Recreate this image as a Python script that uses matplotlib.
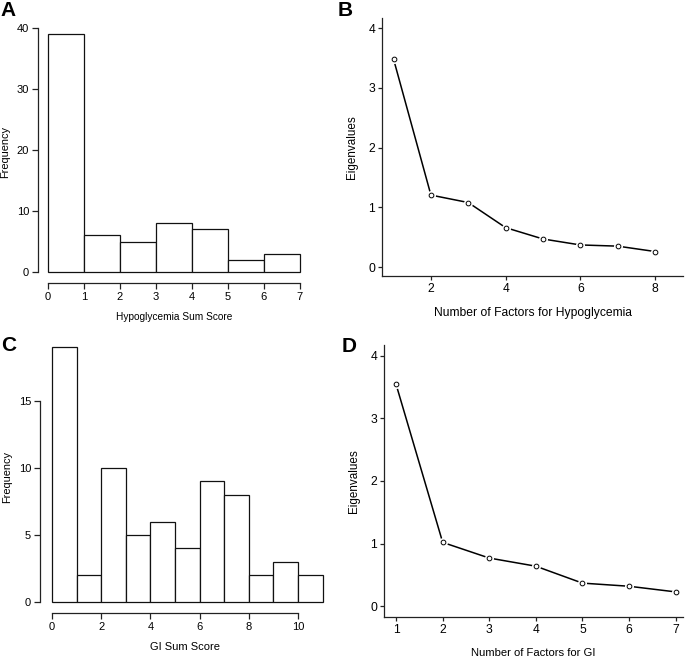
import matplotlib
matplotlib.use("Agg")
import matplotlib.pyplot as plt
import numpy as np

plt.rcParams['font.family'] = ['Liberation Sans', 'DejaVu Sans']

# Data
hypo_bins = [0, 1, 2, 3, 4, 5, 6, 7]
hypo_counts = [39, 6, 5, 8, 7, 2, 3]
gi_bins = list(range(0, 12))
gi_counts = [19, 2, 10, 5, 6, 4, 9, 8, 2, 3, 2]

hypo_factors = [1, 2, 3, 4, 5, 6, 7, 8]
hypo_eigen = [3.48, 1.205, 1.08, 0.66, 0.47, 0.37, 0.35, 0.26]
gi_factors = [1, 2, 3, 4, 5, 6, 7]
gi_eigen = [3.54, 1.02, 0.77, 0.64, 0.37, 0.32, 0.23]

W, H = 685, 658
fig = plt.figure(figsize=(W/100, H/100), dpi=100)

def add_ax(l, r, t, b):
    return fig.add_axes([l/W, 1 - b/H, (r-l)/W, (b-t)/H])

LW = 0.9

def style_common(ax, tick_fs, length):
    ax.tick_params(labelsize=tick_fs, width=LW, length=length, pad=2, color='#222222')
    for s in ax.spines.values():
        s.set_linewidth(LW)
        s.set_color('#222222')
    ax.patch.set_alpha(0)

def hist_panel(ax, bins, counts, xlim, ylim, xticks, yticks, xlabel, xlab_fs, ylab_fs):
    lefts = bins[:-1]
    widths = np.diff(bins)
    ax.bar(lefts, counts, width=widths, align='edge', facecolor='white',
           edgecolor='#111111', linewidth=LW)
    ax.set_xlim(*xlim)
    ax.set_ylim(*ylim)
    ax.set_xticks(xticks)
    ax.set_yticks(yticks)
    ax.spines['top'].set_visible(False)
    ax.spines['right'].set_visible(False)
    ax.spines['bottom'].set_bounds(xticks[0], xticks[-1])
    ax.spines['left'].set_bounds(yticks[0], yticks[-1])
    style_common(ax, 8.0, 4.5)
    ax.set_xlabel(xlabel, fontsize=xlab_fs, labelpad=7)
    ax.set_ylabel('Frequency', fontsize=ylab_fs, labelpad=5)

def scree_panel(ax, x, y, xlim, ylim, xticks, yticks, xlabel, xlab_fs, ylab_fs):
    ax.plot(x, y, color='black', linewidth=1.1, zorder=2)
    ax.plot(x, y, linestyle='none', marker='o', markersize=6.5,
            markerfacecolor='white', markeredgecolor='none', zorder=3)
    ax.plot(x, y, linestyle='none', marker='o', markersize=3.4,
            markerfacecolor='white', markeredgecolor='black', markeredgewidth=0.7, zorder=4)
    ax.set_xlim(*xlim)
    ax.set_ylim(*ylim)
    ax.set_xticks(xticks)
    ax.set_yticks(yticks)
    ax.spines['top'].set_visible(False)
    ax.spines['right'].set_visible(False)
    style_common(ax, 8.7, 3)
    ax.set_xlabel(xlabel, fontsize=xlab_fs, labelpad=9)
    ax.set_ylabel('Eigenvalues', fontsize=ylab_fs, labelpad=7)

# Panel A
axA = add_ax(38, 310, 21.9, 283)
hist_panel(axA, hypo_bins, hypo_counts, (-0.28, 7.28), (-1.8, 41),
           [0, 1, 2, 3, 4, 5, 6, 7], [0, 10, 20, 30, 40], 'Hypoglycemia Sum Score', 7.3, 7.9)

# Panel C
axC = add_ax(40, 330, 340.7, 613)
hist_panel(axC, gi_bins, gi_counts, (-0.49, 11.3), (-0.82, 19.5),
           [0, 2, 4, 6, 8, 10], [0, 5, 10, 15], 'GI Sum Score', 8.0, 7.9)

# Panel B
axB = add_ax(382, 683, 18, 276)
scree_panel(axB, hypo_factors, hypo_eigen, (0.69, 8.75), (-0.15, 4.17),
            [2, 4, 6, 8], [0, 1, 2, 3, 4], 'Number of Factors for Hypoglycemia', 8.7, 8.4)

# Panel D
axD = add_ax(384, 683, 345, 616.7)
scree_panel(axD, gi_factors, gi_eigen, (0.74, 7.16), (-0.166, 4.17),
            [1, 2, 3, 4, 5, 6, 7], [0, 1, 2, 3, 4], 'Number of Factors for GI', 8.1, 8.4)

# Panel letters
for lab, x, y in [('A', 0, 1), ('B', 338, 1), ('C', 1, 336), ('D', 342, 337)]:
    fig.text(x/W, 1 - y/H, lab, fontsize=15, fontweight='bold', ha='left', va='top')

fig.savefig('out.png', dpi=100)
